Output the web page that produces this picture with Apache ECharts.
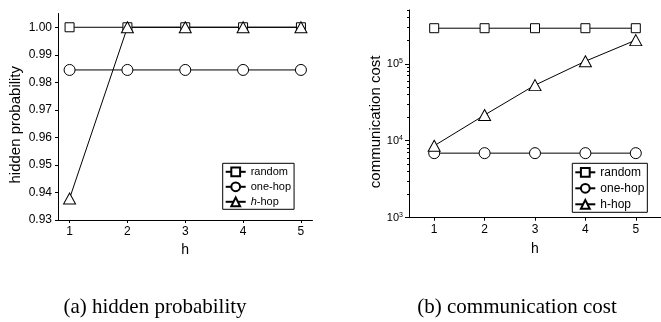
<!DOCTYPE html>
<html>
<head>
<meta charset="utf-8">
<script src="https://cdn.jsdelivr.net/npm/echarts@6/dist/echarts.min.js"></script>
<style>html,body{margin:0;padding:0;background:#fff;}#c{width:661px;height:322px;}</style>
</head>
<body>
<div id="c"></div>
<script>
// ---- data ----
var hValues = [1, 2, 3, 4, 5];
var probRandom = [1.0, 1.0, 1.0, 1.0, 1.0];
var probOneHop = [0.9845, 0.9845, 0.9845, 0.9845, 0.9845];
var probHHop = [0.9378, 1.0, 1.0, 1.0, 1.0];
var costRandom = [290000, 290000, 290000, 290000, 290000];
var costOneHop = [6900, 6900, 6900, 6900, 6900];
var costHHop = [8600, 21600, 52800, 108000, 203000];
var probTicks = [0.93, 0.94, 0.95, 0.96, 0.97, 0.98, 0.99, 1.00];
var costMajorTicks = [1000, 10000, 100000];
var costMinorTicks = [2000,3000,4000,5000,6000,7000,8000,9000,20000,30000,40000,50000,60000,70000,80000,90000,200000,300000,400000,500000];
var seriesNames = ['random', 'one-hop', 'h-hop'];
var captions = ['(a) hidden probability', '(b) communication cost'];

var FONT = 'Liberation Sans';
var BLACK = '#000';

function pair(a, b) { return a.map(function (v, i) { return [v, b[i]]; }); }

function mkSeries(name, data, symbol, size, xi, yi) {
  return {
    name: name, type: 'line', xAxisIndex: xi, yAxisIndex: yi, data: data,
    symbol: symbol, symbolSize: size, showSymbol: true,
    lineStyle: { color: BLACK, width: 1 },
    itemStyle: { color: '#fff', borderColor: BLACK, borderWidth: 1 },
    emphasis: { disabled: true }, animation: false, z: 2
  };
}

var symbols = ['rect', 'circle', 'triangle'];
var sizes = [9, 11, [12, 11]];

var chart = echarts.init(document.getElementById('c'), null, { renderer: 'canvas' });

var axisCommon = {
  axisLine: { show: true, lineStyle: { color: BLACK, width: 1 } },
  splitLine: { show: false }
};

function legendCfg(left, italic, fs) {
  var cfg = {
    left: left, top: 163.3, orient: 'vertical',
    data: seriesNames.map(function (n) { return { name: n }; }),
    itemWidth: 20, itemHeight: 11, itemGap: 4, padding: [3, 3, 2, 2],
    borderColor: BLACK, borderWidth: 1, borderRadius: 0, backgroundColor: '#fff',
    selectedMode: false,
    textStyle: { fontFamily: FONT, fontSize: fs, color: BLACK }
  };
  if (italic) {
    cfg.formatter = function (n) { return n === 'h-hop' ? '{i|h}{n|-hop}' : '{n|' + n + '}'; };
    cfg.textStyle.rich = {
      i: { fontStyle: 'italic', fontFamily: FONT, fontSize: fs, color: BLACK },
      n: { fontFamily: FONT, fontSize: fs, color: BLACK }
    };
  }
  return cfg;
}

var option = {
  backgroundColor: '#fff',
  animation: false,
  textStyle: { fontFamily: FONT },
  title: [
    { text: captions[0], left: 150, top: 292, textAlign: 'center',
      textStyle: { fontFamily: 'Liberation Serif', fontWeight: 'normal', fontSize: 21, color: BLACK } },
    { text: captions[1], left: 512, top: 292, textAlign: 'center',
      textStyle: { fontFamily: 'Liberation Serif', fontWeight: 'normal', fontSize: 21, color: BLACK } }
  ],
  grid: [
    { left: 58, top: 13.5, right: 661 - 312.5, bottom: 322 - 220, containLabel: false },
    { left: 409, top: 10, right: 661 - 667.5, bottom: 322 - 217.7, containLabel: false }
  ],
  legend: [ legendCfg(222.7, true, 11), legendCfg(572.3, false, 12) ],
  xAxis: [
    Object.assign({}, axisCommon, {
      type: 'value', gridIndex: 0, min: 0.8, max: 5.2,
      name: 'h', nameLocation: 'middle', nameGap: 23,
      nameTextStyle: { fontFamily: FONT, fontSize: 14, color: BLACK },
      axisTick: { show: true, length: 3, lineStyle: { color: BLACK }, customValues: hValues },
      axisLabel: { color: BLACK, fontFamily: FONT, fontSize: 12, margin: 6, customValues: hValues }
    }),
    Object.assign({}, axisCommon, {
      type: 'value', gridIndex: 1, min: 0.5, max: 5.5,
      name: 'h', nameLocation: 'middle', nameGap: 24,
      nameTextStyle: { fontFamily: FONT, fontSize: 14, color: BLACK },
      axisTick: { show: true, length: 3, lineStyle: { color: BLACK }, customValues: hValues },
      axisLabel: { color: BLACK, fontFamily: FONT, fontSize: 12, margin: 6, customValues: hValues }
    })
  ],
  yAxis: [
    Object.assign({}, axisCommon, {
      type: 'value', gridIndex: 0, min: 0.93, max: 1.005,
      name: 'hidden probability', nameLocation: 'middle', nameGap: 35,
      nameTextStyle: { fontFamily: FONT, fontSize: 15, color: BLACK, padding: [0, 16, 0, 0] },
      axisTick: { show: true, length: 3, lineStyle: { color: BLACK }, customValues: probTicks },
      axisLabel: { color: BLACK, fontFamily: FONT, fontSize: 12, margin: 6, customValues: probTicks,
        formatter: function (v) { return v.toFixed(2); } }
    }),
    Object.assign({}, axisCommon, {
      type: 'log', logBase: 10, gridIndex: 1, min: 1000, max: 500000, position: 'left',
      name: 'communication cost', nameLocation: 'middle', nameGap: 25,
      nameTextStyle: { fontFamily: FONT, fontSize: 15, color: BLACK, padding: [0, 16, 0, 0] },
      axisTick: { show: true, length: 4, lineStyle: { color: BLACK }, customValues: costMajorTicks },
      axisLabel: { color: BLACK, fontFamily: FONT, margin: 6, customValues: costMajorTicks,
        formatter: function (v) { return '{b|10}{s|' + Math.round(Math.log10(v)) + '}'; },
        rich: { b: { fontSize: 11, fontFamily: FONT, color: BLACK }, s: { fontSize: 7, fontFamily: FONT, color: BLACK, verticalAlign: 'top', padding: [0, 0, 5, 0] } } }
    }),
    {
      type: 'log', logBase: 10, gridIndex: 1, min: 1000, max: 500000, position: 'left', offset: 0,
      axisLine: { show: false }, splitLine: { show: false },
      axisTick: { show: true, length: 2, lineStyle: { color: BLACK }, customValues: costMinorTicks },
      axisLabel: { show: false, customValues: costMinorTicks }
    }
  ],
  series: [
    mkSeries(seriesNames[0], pair(hValues, probRandom), symbols[0], sizes[0], 0, 0),
    mkSeries(seriesNames[1], pair(hValues, probOneHop), symbols[1], sizes[1], 0, 0),
    mkSeries(seriesNames[2], pair(hValues, probHHop), symbols[2], sizes[2], 0, 0),
    mkSeries(seriesNames[0], pair(hValues, costRandom), symbols[0], sizes[0], 1, 1),
    mkSeries(seriesNames[1], pair(hValues, costOneHop), symbols[1], sizes[1], 1, 1),
    mkSeries(seriesNames[2], pair(hValues, costHHop), symbols[2], sizes[2], 1, 1)
  ]
};
chart.setOption(option);
</script>
</body>
</html>
